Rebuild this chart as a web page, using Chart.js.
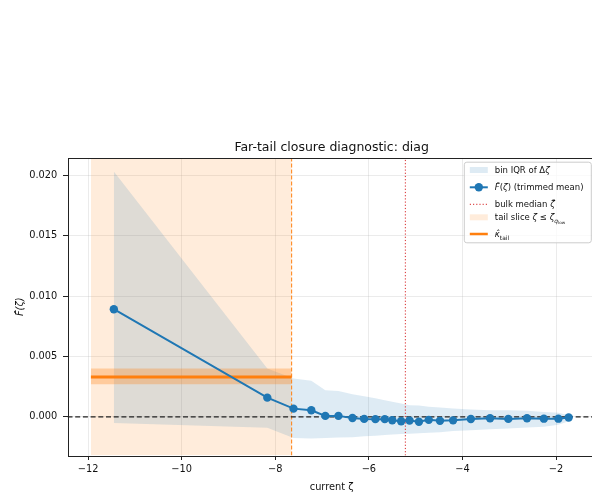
<!DOCTYPE html>
<html>
<head>
<meta charset="utf-8">
<script src="https://cdn.jsdelivr.net/npm/chart.js@4.4.1/dist/chart.umd.min.js"></script>
<style>
  html, body { margin: 0; padding: 0; background: #ffffff; overflow: hidden; }
  canvas { display: block; }
</style>
</head>
<body>
<canvas id="chart" width="600" height="497"></canvas>
<script>
// Bin centres of the current zeta and the trimmed-mean closure estimate per bin
const zeta = [-11.45, -8.17, -7.61, -7.23, -6.93, -6.65, -6.35, -6.10, -5.86, -5.66, -5.50, -5.31,
              -5.13, -4.93, -4.72, -4.48, -4.20, -3.82, -3.41, -3.02, -2.62, -2.26, -1.95, -1.73];
const fHat = [0.00891, 0.00159, 0.00068, 0.00055, 0.00008, 0.00008, -0.00010, -0.00017, -0.00019, -0.00019,
              -0.00028, -0.00037, -0.00031, -0.00040, -0.00025, -0.00033, -0.00029, -0.00018, -0.00012,
              -0.00017, -0.00012, -0.00015, -0.00015, -0.00006];
// Inter-quartile range of delta-zeta in each bin
const iqrLow = [-0.00050, -0.00091, -0.00176, -0.00180, -0.00176, -0.00172, -0.00168, -0.00160, -0.00156,
                -0.00151, -0.00147, -0.00143, -0.00139, -0.00135, -0.00131, -0.00127, -0.00118, -0.00110,
                -0.00102, -0.00096, -0.00089, -0.00081, -0.00065, -0.00036];
const iqrHigh = [0.02031, 0.00401, 0.00318, 0.00298, 0.00221, 0.00213, 0.00188, 0.00171, 0.00155, 0.00138,
                 0.00124, 0.00111, 0.00097, 0.00093, 0.00083, 0.00078, 0.00070, 0.00061, 0.00055, 0.00055,
                 0.00050, 0.00041, 0.00033, 0.00014];
// Tail slice and fitted tail coefficient
const tailSlice = [-11.94, -7.65];
const kappaTail = 0.0033;
const kappaBand = [0.0027, 0.0040];
const bulkMedian = -5.22;
// Axis ranges and ticks
const xRange = [-12.44, -1.15];
const yRange = [-0.0032, 0.02143];
const xTicks = [-12, -10, -8, -6, -4, -2];
const yTicks = [0.000, 0.005, 0.010, 0.015, 0.020];

const C0 = '#1f77b4';
const C1 = '#ff7f0e';
const FONT = '"DejaVu Sans", "Liberation Sans", sans-serif';

const pts = (xs, ys) => xs.map((x, i) => ({ x: x, y: ys[i] }));
const hidden = 'rgba(0,0,0,0)';

const datasets = [
  { // 0: trimmed mean
    data: pts(zeta, fHat), borderColor: C0, backgroundColor: C0, borderWidth: 2,
    pointRadius: 4.2, pointBorderWidth: 0, pointBackgroundColor: C0, fill: false, order: 1
  },
  { // 1: zero reference
    data: [{ x: xRange[0], y: 0 }, { x: xRange[1], y: 0 }], borderColor: '#222222', borderWidth: 1.1,
    borderDash: [5, 2.7], pointRadius: 0, fill: false, order: 3
  },
  { // 2: tail-slice boundary
    data: [{ x: tailSlice[1], y: yRange[0] }, { x: tailSlice[1], y: yRange[1] }], borderColor: C1,
    borderWidth: 1, borderDash: [4, 2], pointRadius: 0, fill: false, order: 3
  },
  { // 3: bulk median
    data: [{ x: bulkMedian, y: yRange[0] }, { x: bulkMedian, y: yRange[1] }], borderColor: '#d62728',
    borderWidth: 1, borderDash: [1.2, 2], pointRadius: 0, fill: false, order: 3
  },
  { // 4: kappa_tail
    data: [{ x: tailSlice[0], y: kappaTail }, { x: tailSlice[1], y: kappaTail }], borderColor: C1,
    borderWidth: 3, pointRadius: 0, fill: false, order: 4
  },
  { // 5: kappa band upper
    data: [{ x: tailSlice[0], y: kappaBand[1] }, { x: tailSlice[1], y: kappaBand[1] }], borderColor: hidden,
    borderWidth: 0, pointRadius: 0, fill: '+1', backgroundColor: 'rgba(255,127,14,0.30)', order: 6
  },
  { // 6: kappa band lower
    data: [{ x: tailSlice[0], y: kappaBand[0] }, { x: tailSlice[1], y: kappaBand[0] }], borderColor: hidden,
    borderWidth: 0, pointRadius: 0, fill: false, order: 6
  },
  { // 7: IQR upper
    data: pts(zeta, iqrHigh), borderColor: hidden, borderWidth: 0, pointRadius: 0,
    fill: '+1', backgroundColor: 'rgba(31,119,180,0.15)', order: 8
  },
  { // 8: IQR lower
    data: pts(zeta, iqrLow), borderColor: hidden, borderWidth: 0, pointRadius: 0, fill: false, order: 8
  },
  { // 9: tail slice span
    data: [{ x: tailSlice[0], y: yRange[1] }, { x: tailSlice[1], y: yRange[1] }], borderColor: hidden,
    borderWidth: 0, pointRadius: 0, fill: 'start', backgroundColor: 'rgba(255,127,14,0.15)', order: 10
  }
];

// Draws a run of text pieces (italic / sub-scripted) left to right
function drawRich(ctx, x, y, parts, size) {
  for (const p of parts) {
    const s = size * (p.scale || 1);
    ctx.font = (p.it ? 'italic ' : '') + s + 'px ' + FONT;
    ctx.fillText(p.t, x, y + (p.dy || 0));
    x += ctx.measureText(p.t).width;
  }
  return x;
}

const frameAndLegend = {
  id: 'frameAndLegend',
  afterDraw(chart) {
    const { ctx, chartArea: a } = chart;
    ctx.save();
    // axes frame
    ctx.strokeStyle = '#222222';
    ctx.lineWidth = 1;
    ctx.setLineDash([]);
    ctx.strokeRect(Math.round(a.left) + 0.5, Math.round(a.top) + 0.5,
                   Math.round(a.right - a.left), Math.round(a.bottom - a.top));

    // legend box
    const w = 127, h = 80.6;
    const right = a.right - 5, top = a.top + 3.7, left = right - w;
    ctx.beginPath();
    if (ctx.roundRect) ctx.roundRect(left + 0.5, top + 0.5, w, h, 2.5); else ctx.rect(left + 0.5, top + 0.5, w, h);
    ctx.fillStyle = 'rgba(255,255,255,0.8)';
    ctx.fill();
    ctx.strokeStyle = '#cccccc';
    ctx.stroke();

    const fs = 8.5;
    const rows = [8.3, 25.6, 42.6, 55.6, 72.3];
    const hx0 = left + 6, hx1 = left + 24, tx = left + 31;
    const labels = [
      [{ t: 'bin IQR of ' }, { t: 'Δ' }, { t: 'ζ', it: true }],
      [{ t: 'F\u0302', it: true }, { t: '(' }, { t: 'ζ', it: true }, { t: ') (trimmed mean)' }],
      [{ t: 'bulk median ' }, { t: 'ζ\u0303', it: true }],
      [{ t: 'tail slice ' }, { t: 'ζ', it: true }, { t: ' ≤ ' }, { t: 'ζ', it: true },
       { t: 'q', it: true, scale: 0.7, dy: 2.5 }, { t: 'low', scale: 0.5, dy: 4 }],
      [{ t: 'κ\u0302', it: true }, { t: 'tail', scale: 0.7, dy: 2.5 }]
    ];
    rows.forEach((dy, i) => {
      const cy = top + dy;
      ctx.setLineDash([]);
      if (i === 0 || i === 3) {
        ctx.fillStyle = i === 0 ? 'rgba(31,119,180,0.15)' : 'rgba(255,127,14,0.15)';
        ctx.fillRect(hx0, cy - 3, hx1 - hx0, 6);
      } else {
        ctx.beginPath();
        ctx.moveTo(hx0, cy); ctx.lineTo(hx1, cy);
        if (i === 1) { ctx.strokeStyle = C0; ctx.lineWidth = 2; }
        if (i === 2) { ctx.strokeStyle = '#d62728'; ctx.lineWidth = 1; ctx.setLineDash([1.2, 2]); }
        if (i === 4) { ctx.strokeStyle = C1; ctx.lineWidth = 2.5; }
        ctx.stroke();
        if (i === 1) {
          ctx.beginPath(); ctx.arc((hx0 + hx1) / 2, cy, 4.2, 0, Math.PI * 2);
          ctx.fillStyle = C0; ctx.fill();
        }
      }
      ctx.fillStyle = '#111111';
      ctx.textBaseline = 'alphabetic';
      ctx.textAlign = 'left';
      drawRich(ctx, tx, cy + fs * 0.36, labels[i], fs);
    });
    ctx.restore();
  }
};

const tickFont = { family: FONT, size: 9.8 };
const gridColor = 'rgba(176,176,176,0.25)';

new Chart(document.getElementById('chart'), {
  type: 'line',
  data: { datasets: datasets },
  options: {
    responsive: false,
    devicePixelRatio: 1,
    animation: false,
    events: [],
    parsing: true,
    layout: { padding: { top: 140.5, right: 4, bottom: 0, left: 0 } },
    plugins: {
      legend: { display: false },
      tooltip: { enabled: false },
      title: {
        display: true, text: 'Far-tail closure diagnostic: diag', color: '#111111', fullSize: false,
        font: { family: FONT, size: 12.5, weight: 'normal' }, padding: { top: 0, bottom: 2.5 }
      }
    },
    scales: {
      x: {
        type: 'linear', min: xRange[0], max: xRange[1],
        afterBuildTicks: s => { s.ticks = xTicks.map(v => ({ value: v })); },
        afterFit: s => { s.height = 41.5; },
        ticks: {
          font: tickFont, color: '#111111', padding: 4, maxRotation: 0,
          callback: v => (v < 0 ? '\u2212' : '') + Math.abs(v)
        },
        grid: { color: gridColor, tickColor: '#222222', tickLength: 4.5, lineWidth: 1 },
        border: { display: false },
        title: { display: true, text: 'current ζ', color: '#111111', font: { family: FONT, size: 9.8 },
                 padding: { top: 0, bottom: 3.6 } }
      },
      y: {
        type: 'linear', min: yRange[0], max: yRange[1],
        afterBuildTicks: s => { s.ticks = yTicks.map(v => ({ value: v })); },
        afterFit: s => { s.width = 67.5; },
        ticks: { font: tickFont, color: '#111111', padding: 5.7, callback: v => v.toFixed(3) },
        grid: { color: gridColor, tickColor: '#222222', tickLength: 4.5, lineWidth: 1 },
        border: { display: false },
        title: { display: true, text: 'F\u0302(ζ)', color: '#111111',
                 font: { family: FONT, size: 9.8, style: 'italic' }, padding: { top: 15, bottom: 0 } }
      }
    }
  },
  plugins: [frameAndLegend]
});
</script>
</body>
</html>
